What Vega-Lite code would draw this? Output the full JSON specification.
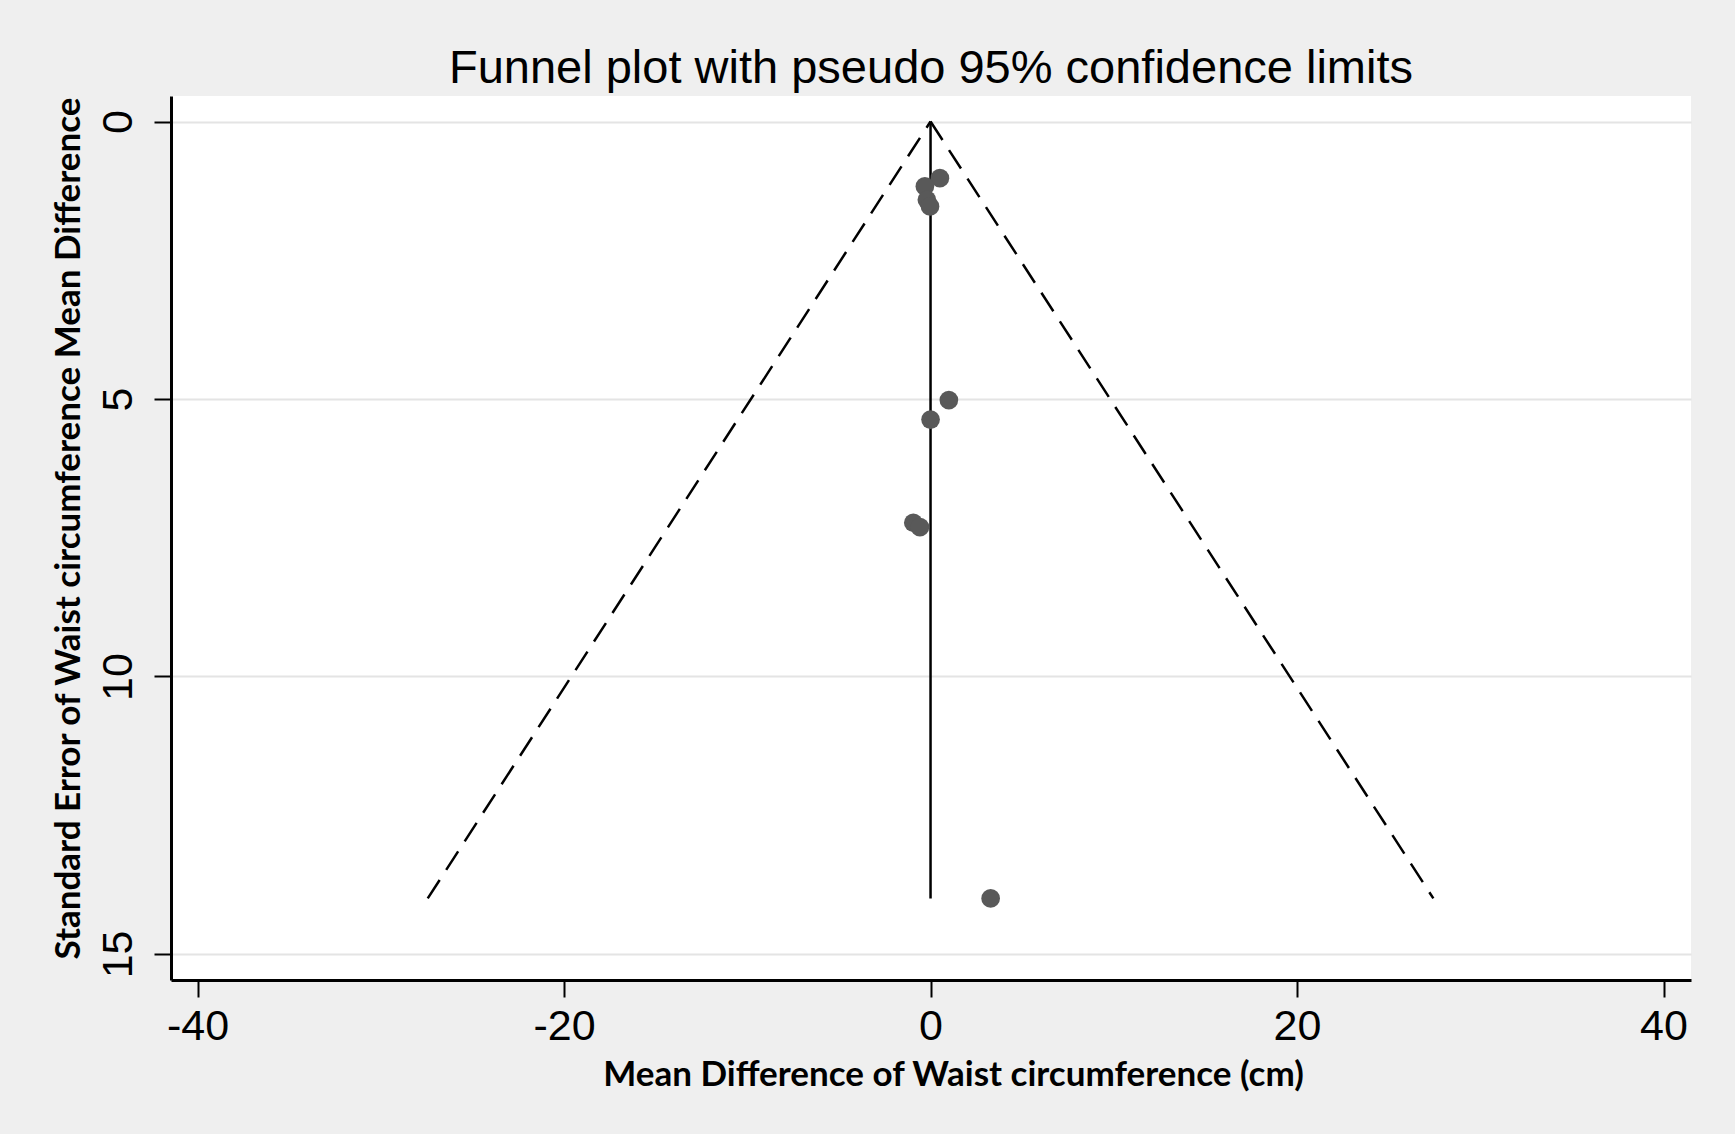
{
  "$schema": "https://vega.github.io/schema/vega-lite/v6.json",
  "autosize": {"type": "none"},
  "width": 1520,
  "height": 884,
  "padding": {"left": 171, "top": 96, "right": 44, "bottom": 154},
  "background": "#efefef",
  "view": {"fill": "white", "stroke": null},
  "title": {
    "text": "Funnel plot with pseudo 95% confidence limits",
    "font": "Liberation Sans",
    "fontSize": 47,
    "fontWeight": "normal",
    "color": "black",
    "anchor": "middle",
    "baseline": "alphabetic",
    "offset": 13,
    "dy": 47
  },
  "config": {
    "axis": {
      "labelFont": "Liberation Sans",
      "labelFontSize": 43,
      "labelColor": "black",
      "titleFont": "Lato",
      "titleFontWeight": "bold",
      "titleFontSize": 35,
      "titleColor": "black",
      "domainColor": "black",
      "domainWidth": 3,
      "tickColor": "black",
      "tickWidth": 2,
      "tickSize": 17
    }
  },
  "datasets": {
    "studies": [
      {"md": 0.51, "se": 1.02},
      {"md": -0.31, "se": 1.17},
      {"md": -0.2, "se": 1.41},
      {"md": -0.03, "se": 1.53},
      {"md": 1.0, "se": 5.02},
      {"md": 0.0, "se": 5.37},
      {"md": -0.94, "se": 7.23},
      {"md": -0.58, "se": 7.31},
      {"md": 3.28, "se": 14.0}
    ],
    "funnel": [
      {"x": -27.44, "y": 14, "side": "lower"},
      {"x": 0, "y": 0, "side": "lower"},
      {"x": 0, "y": 0, "side": "upper"},
      {"x": 27.44, "y": 14, "side": "upper"}
    ],
    "pooled": [
      {"x": 0, "y": 0, "y2": 14}
    ]
  },
  "layer": [
    {
      "data": {"name": "funnel"},
      "mark": {"type": "line", "color": "black", "strokeWidth": 2.5, "strokeDash": [22, 12]},
      "encoding": {
        "x": {
          "field": "x", "type": "quantitative",
          "scale": {"domain": [-41.45, 41.5], "nice": false, "zero": false},
          "axis": {
            "values": [-40, -20, 0, 20, 40],
            "labelExpr": "toString(datum.value)",
            "grid": false,
            "labelPadding": 8,
            "title": "Mean Difference of Waist circumference (cm)",
            "titleX": 782,
            "titleY": 94,
            "titleAlign": "center",
            "titleBaseline": "middle"
          }
        },
        "y": {
          "field": "y", "type": "quantitative",
          "scale": {"domain": [-0.46, 15.47], "nice": false, "zero": false, "reverse": true},
          "axis": {
            "values": [0, 5, 10, 15],
            "labelExpr": "toString(datum.value)",
            "grid": true,
            "gridColor": "#e4e4e4",
            "gridWidth": 2,
            "labelAngle": 270,
            "labelAlign": "center",
            "labelBaseline": "bottom",
            "labelPadding": 14,
            "title": "Standard Error of Waist circumference Mean Difference",
            "titleAngle": 270,
            "titleX": -103,
            "titleY": 432,
            "titleAlign": "center",
            "titleBaseline": "middle"
          }
        },
        "detail": {"field": "side"}
      }
    },
    {
      "data": {"name": "pooled"},
      "mark": {"type": "rule", "color": "black", "strokeWidth": 2.5},
      "encoding": {
        "x": {"field": "x", "type": "quantitative"},
        "y": {"field": "y", "type": "quantitative"},
        "y2": {"field": "y2"}
      }
    },
    {
      "data": {"name": "studies"},
      "mark": {"type": "circle", "size": 350, "color": "#595959", "opacity": 1},
      "encoding": {
        "x": {"field": "md", "type": "quantitative"},
        "y": {"field": "se", "type": "quantitative"}
      }
    }
  ]
}
